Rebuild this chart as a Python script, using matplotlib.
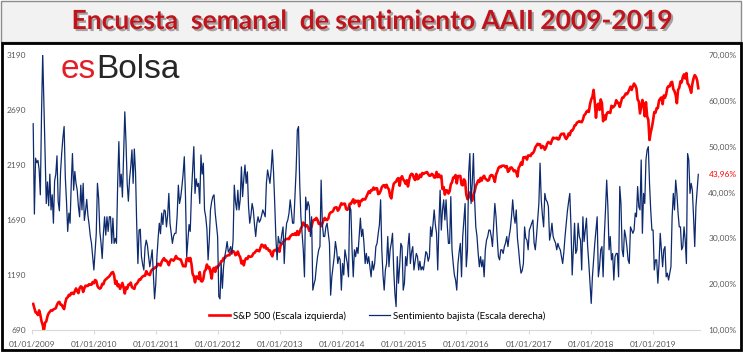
import pandas as pd
import matplotlib
matplotlib.use("Agg")
import matplotlib.pyplot as plt
import matplotlib.dates as mdates
import matplotlib.patheffects as pe
from matplotlib.patches import Rectangle
from matplotlib.transforms import blended_transform_factory

# S&P 500, cierre semanal (escala izquierda)
sp2009 = [927, 890, 850, 845, 826, 868, 827, 770, 735, 683, 757, 768, 815, 842, 856, 869, 866, 877, 883, 888,
          919, 940, 946, 921, 918, 896, 880, 940, 979, 987, 1010, 1004, 1026, 1028, 1017, 1042, 1068, 1044, 1025,
          1071, 1087, 1080, 1036, 1069, 1093, 1091, 1091, 1106, 1102, 1102, 1126, 1115]
sp2010 = [1144, 1137, 1091, 1073, 1066, 1075, 1109, 1105, 1138, 1150, 1159, 1167, 1178, 1194, 1211, 1217, 1187,
          1110, 1136, 1088, 1103, 1064, 1092, 1118, 1076, 1022, 1078, 1064, 1102, 1101, 1121, 1079, 1071, 1064,
          1104, 1110, 1125, 1148, 1146, 1165, 1176, 1183, 1183, 1225, 1199, 1199, 1189, 1224, 1240, 1243, 1257, 1258]
sp2011 = [1271, 1293, 1283, 1276, 1310, 1329, 1343, 1320, 1321, 1304, 1279, 1314, 1332, 1328, 1320, 1337, 1363,
          1340, 1338, 1333, 1331, 1300, 1270, 1271, 1268, 1339, 1344, 1316, 1345, 1292, 1199, 1178, 1123, 1177,
          1174, 1154, 1216, 1136, 1131, 1155, 1224, 1238, 1285, 1253, 1263, 1216, 1158, 1244, 1255, 1219, 1265, 1257]
sp2012 = [1278, 1289, 1315, 1316, 1345, 1342, 1361, 1366, 1370, 1370, 1404, 1397, 1408, 1398, 1370, 1378, 1403,
          1369, 1353, 1295, 1318, 1278, 1325, 1343, 1335, 1362, 1354, 1356, 1362, 1386, 1391, 1405, 1418, 1411,
          1406, 1438, 1466, 1460, 1440, 1460, 1428, 1433, 1411, 1414, 1380, 1359, 1409, 1416, 1413, 1430, 1430, 1402]
sp2013 = [1466, 1472, 1486, 1503, 1513, 1518, 1519, 1516, 1541, 1551, 1561, 1556, 1569, 1553, 1589, 1555, 1582,
          1614, 1634, 1667, 1650, 1631, 1643, 1626, 1592, 1606, 1632, 1680, 1692, 1691, 1709, 1691, 1655, 1664,
          1633, 1655, 1688, 1709, 1691, 1690, 1703, 1744, 1759, 1762, 1770, 1798, 1804, 1805, 1775, 1787, 1818, 1842]
sp2014 = [1831, 1838, 1838, 1790, 1782, 1797, 1838, 1836, 1859, 1878, 1841, 1866, 1857, 1865, 1815, 1864, 1863,
          1881, 1878, 1877, 1900, 1924, 1950, 1936, 1962, 1960, 1985, 1967, 1978, 1978, 1925, 1931, 1955, 1988,
          2003, 2007, 1985, 2010, 1982, 1967, 1906, 1886, 1964, 2018, 2031, 2039, 2063, 2071, 2002, 2070, 2088, 2058]
sp2015 = [2044, 2019, 2051, 1995, 2055, 2096, 2110, 2104, 2071, 2053, 2108, 2061, 2067, 2102, 2081, 2117, 2108,
          2116, 2122, 2126, 2107, 2092, 2094, 2110, 2101, 2077, 2076, 2127, 2079, 2104, 2078, 2092, 1971, 1989,
          1921, 1961, 1958, 1931, 1951, 2014, 2033, 2075, 2079, 2099, 2023, 2089, 2090, 2091, 2012, 2005, 2060, 2044]
sp2016 = [1922, 1880, 1907, 1940, 1880, 1865, 1918, 1948, 1999, 2022, 2050, 2036, 2073, 2048, 2081, 2092, 2065,
          2058, 2047, 2053, 2090, 2099, 2096, 2071, 2037, 2103, 2129, 2162, 2175, 2170, 2183, 2184, 2183, 2169,
          2180, 2128, 2139, 2165, 2168, 2153, 2133, 2141, 2126, 2085, 2164, 2182, 2213, 2192, 2260, 2259, 2264, 2239]
sp2017 = [2277, 2275, 2271, 2295, 2297, 2316, 2351, 2367, 2383, 2373, 2378, 2344, 2363, 2355, 2329, 2349, 2384,
          2399, 2390, 2382, 2415, 2439, 2433, 2433, 2438, 2423, 2425, 2459, 2473, 2472, 2476, 2441, 2426, 2443,
          2476, 2461, 2500, 2502, 2519, 2549, 2553, 2575, 2581, 2588, 2582, 2579, 2602, 2642, 2651, 2675, 2684, 2673]
sp2018 = [2743, 2786, 2810, 2873, 2762, 2620, 2732, 2747, 2691, 2786, 2752, 2588, 2640, 2604, 2656, 2670, 2670,
          2663, 2728, 2713, 2721, 2735, 2779, 2754, 2755, 2718, 2760, 2801, 2802, 2819, 2840, 2833, 2850, 2875,
          2902, 2872, 2905, 2930, 2914, 2886, 2785, 2768, 2659, 2723, 2781, 2736, 2633, 2760, 2633, 2600, 2417, 2486]
sp2019 = [2532, 2596, 2671, 2665, 2707, 2708, 2776, 2793, 2804, 2743, 2822, 2801, 2834, 2893, 2907, 2905, 2940,
          2946, 2881, 2860, 2826, 2752, 2873, 2892, 2950, 2941, 2990, 3014, 2977, 3026, 2932, 2918, 2889, 2847,
          2926, 2978, 3007, 2992, 2962, 2888]

# Sentimiento bajista AAII, % semanal (escala derecha)
b2009 = [55, 35.3, 47.5, 46.5, 47, 45, 39.5, 57, 70.3, 59.5, 49.3, 37.6, 42.3, 37.1, 44, 36.2, 39.5, 33.3, 42.5, 44,
         48, 38, 36, 44.5, 48.7, 52, 54.4, 43.3, 38, 31.5, 35.5, 33.3, 42, 48.5, 40.5, 44.6, 42, 40.5, 37, 34.7,
         41.6, 36.2, 42, 33.9, 36, 38.5, 35, 33, 30.5, 28.9, 26, 23.1]
b2010 = [27, 31, 42, 38.8, 31.5, 29, 25.6, 31, 34.7, 30.7, 34.7, 31.5, 34.7, 34.7, 28.9, 34.4, 28.9, 30, 28.9, 42,
         51.1, 41.2, 44, 39, 48, 57.6, 51, 42, 38.1, 43, 45.6, 49.3, 42, 49.5, 44.5, 33, 24.5, 31.8, 32, 26,
         24.3, 23.1, 28, 29.6, 28.5, 26, 23.8, 25.5, 27.5, 22, 16.8, 20]
b2011 = [26, 30, 33.3, 31, 35.5, 33, 36.2, 36, 32.5, 35, 39.8, 33.3, 31, 28.9, 30.5, 31.1, 31.1, 35, 41.6, 37.6,
         39, 41.3, 44, 47.8, 39.1, 26, 29.6, 33, 31.5, 39.8, 45, 50, 39.8, 43, 41.3, 42, 37.6, 48.2, 44, 46.4,
         36.2, 34.7, 32, 25.3, 29.6, 36.2, 38, 39.1, 39.5, 35.5, 33, 30.4]
b2012 = [17.3, 16.8, 24.5, 19.1, 23.8, 26, 27.5, 29.3, 27, 27.5, 28.2, 26.5, 29.6, 41.6, 38, 36.2, 40.5, 36.2, 38.5,
         45.6, 39.1, 43, 46, 42, 44.5, 36.9, 33.3, 35, 37.6, 36.2, 33, 30.4, 33.3, 34.7, 33.5, 34, 35, 36.2, 35.5,
         34.7, 42, 44.9, 43.5, 42, 45, 49.3, 44.5, 37.6, 30, 25.3, 30.4, 29]
b2013 = [28.9, 31, 32.5, 24.5, 30.4, 33.3, 34, 35.5, 38.4, 36, 33.3, 33.3, 39.1, 45, 53.6, 54.4, 42, 34.7, 31, 27.5,
         21.6, 39, 36.2, 38, 37, 30.4, 34.7, 18.7, 20, 21, 23.8, 26, 27.5, 28.2, 42.7, 33.3, 30.4, 30.4, 32.5, 33.3,
         31, 28.9, 17.6, 21.6, 23.8, 26, 29.3, 27.5, 24.5, 26, 25.3, 18.7]
b2014 = [24.5, 22, 27.5, 26, 24.5, 21.6, 37, 36.2, 27.5, 21.6, 27.5, 26, 28, 26.7, 30.4, 34.4, 30.4, 32, 28.9, 24.5,
         26.7, 24.5, 26, 23.8, 21.6, 25, 23.1, 24.5, 28.2, 28.9, 31.1, 33, 38.4, 27.5, 22, 18.7, 23.1, 24.5, 30.4,
         23.8, 27.5, 29, 31.1, 23.1, 18, 15.1, 26, 20.2, 24, 28.9, 28.2, 18.7]
b2015 = [20.2, 26, 24, 28.2, 31.1, 24.5, 27, 28.2, 23.1, 25, 26.7, 26, 23.1, 25, 23.1, 23.8, 23.1, 25, 27.1, 26.7,
         25, 26, 32.5, 30.4, 33, 36.2, 33, 31.1, 23.1, 33, 40.5, 31.8, 36.2, 38.4, 34, 38.4, 33, 28.9, 28.9, 39.1,
         27.5, 24.5, 22, 20.9, 18.7, 24.5, 27, 28.9, 21.6, 30.4, 34, 37.6]
b2016 = [23.8, 27.5, 44.2, 48.5, 37.6, 42, 48.5, 38.4, 32.5, 30.4, 26.7, 23.8, 26, 23.8, 25.3, 21.6, 27.5, 29.6,
         30.4, 31.8, 31.8, 30.4, 28.2, 33, 37.6, 34.7, 30, 26, 25.3, 27.5, 27.5, 26.7, 28.2, 29, 30.4, 28.2, 30.4,
         32, 34.7, 38.4, 35, 33.3, 36.2, 30, 27.5, 24.5, 22.4, 23, 24.5, 32.5, 30, 29.6]
b2017 = [27.5, 31.8, 32.5, 33.3, 34, 29, 27.5, 30.4, 34, 37.6, 46.4, 38.4, 35, 32.5, 39.8, 38.4, 38, 36.9, 29.6, 31,
         33.3, 30.4, 29.6, 29, 27.5, 28.9, 28, 27.5, 26, 24.5, 27, 30.4, 33.3, 36, 38, 39.8, 32.5, 22, 27.5, 33.3,
         26.7, 27.5, 33.3, 30.4, 29.6, 23.1, 34.7, 29.3, 31.8, 34.4, 28.2, 24.5]
b2018 = [20.2, 15.8, 21.6, 25.3, 28.9, 31.8, 34.7, 21.6, 23.8, 27.5, 28.2, 21.6, 30.4, 36.2, 42.7, 36.9, 27.5, 30.4,
         25.3, 26.7, 20.9, 26, 26.7, 26.7, 21.6, 41.3, 37.6, 27.5, 26, 31.8, 30.4, 28.2, 25.3, 24.5, 32.5, 31.8,
         31.1, 31.8, 35.5, 34.7, 41.3, 36.9, 36.2, 47.1, 31.1, 39.8, 37.6, 47.1, 49.3, 50, 42, 36.2]
b2019 = [31.8, 31.8, 23.1, 25.3, 25.3, 20.2, 24.5, 31.1, 27.5, 23.8, 27.5, 28.2, 21.6, 22.4, 20.9, 22.4, 23.8, 34.7,
         39.8, 36.2, 42.7, 39.8, 35.5, 32.5, 32.5, 27.5, 28.2, 32.5, 29.6, 24.5, 48.5, 47.1, 39.8, 42, 40.5, 34.7,
         28.2, 36.9, 40.5, 43.96]

ultimo_bajista = 43.96

sp500 = sp2009 + sp2010 + sp2011 + sp2012 + sp2013 + sp2014 + sp2015 + sp2016 + sp2017 + sp2018 + sp2019
bajista = b2009 + b2010 + b2011 + b2012 + b2013 + b2014 + b2015 + b2016 + b2017 + b2018 + b2019

fechas_sp = pd.date_range("2009-01-08", periods=len(sp500), freq="7D")
fechas_baj = pd.date_range("2009-01-08", periods=len(bajista), freq="7D")

W, H = 743, 352
fig = plt.figure(figsize=(W / 100, H / 100), dpi=100)
fig.patch.set_facecolor("white")

# banda del titulo y marco del grafico (detras de los ejes)
fig.add_artist(Rectangle((1 / W, 1 - 42 / H), 740 / W, 41 / H, transform=fig.transFigure,
                         facecolor="#f2f2f2", edgecolor="#8c8c8c", lw=1, zorder=-5))
fig.add_artist(Rectangle((1.5 / W, 2 / H), 739 / W, (H - 45) / H, transform=fig.transFigure,
                         facecolor="none", edgecolor="black", lw=2, zorder=-5))

fig.text(0.5, 1 - 21 / H, "Encuesta  semanal  de sentimiento AAII 2009-2019",
         ha="center", va="center", fontsize=19, fontweight="bold", family="Lato", color="#c0141c",
         path_effects=[pe.SimplePatchShadow(offset=(1.5, -1.5), shadow_rgbFace="#606060", alpha=0.55),
                       pe.Normal()])

gris = "#595959"
ax = fig.add_axes([32 / W, 22 / H, 668 / W, 275 / H])
ax.patch.set_alpha(0)
linea_sp, = ax.plot(fechas_sp, sp500, color="#ff0000", lw=1.9, solid_joinstyle="round")
ax.set_ylim(690, 3190)
ax.set_yticks(range(690, 3191, 500))
ax.set_xlim(pd.Timestamp("2009-01-01"), pd.Timestamp("2019-10-06"))
ax.xaxis.set_major_locator(mdates.YearLocator(1, month=1, day=1))
ax.xaxis.set_major_formatter(mdates.DateFormatter("%d/%m/%Y"))

ax2 = ax.twinx()
linea_baj, = ax2.plot(fechas_baj, bajista, color="#0d2a6e", lw=0.9)
ax2.set_ylim(10, 70)
ax2.set_yticks(range(10, 71, 10))
ax2.set_yticklabels([f"{v:.2f}%".replace(".", ",") for v in range(10, 71, 10)])

for a in (ax, ax2):
    for s in ("top", "left", "right"):
        a.spines[s].set_visible(False)
    a.spines["bottom"].set_color("#d9d9d9")
    a.spines["bottom"].set_linewidth(0.8)
ax2.spines["bottom"].set_visible(False)

ax.tick_params(axis="y", length=0, pad=4.5, labelsize=6, labelcolor=gris)
ax.tick_params(axis="x", length=3, color="#d9d9d9", pad=5, labelsize=6, labelcolor=gris)
ax2.tick_params(axis="y", length=0, pad=6, labelsize=6, labelcolor=gris)
for lab in ax.get_xticklabels() + ax.get_yticklabels() + ax2.get_yticklabels():
    lab.set_family("Lato")

trans = blended_transform_factory(ax2.transAxes, ax2.transData)
ax2.text(1 + 8.5 / 668, ultimo_bajista, f"{ultimo_bajista:.2f}%".replace(".", ","), transform=trans,
         ha="left", va="center", fontsize=6, color="#ff0000", family="Lato")

fig.legend([linea_sp, linea_baj], ["S&P 500 (Escala izquierda)", "Sentimiento bajista (Escala derecha)"],
           loc="center", bbox_to_anchor=(377 / W, 1 - 316 / H), ncol=2, frameon=False,
           prop={"family": "Lato", "size": 7}, handlelength=2.2, handletextpad=0.25, columnspacing=2.4)

# logo
t1 = fig.text(61 / W, 1 - 78 / H, "es", fontsize=24, family="Liberation Sans", color="#e31e24",
              va="baseline", zorder=10)
fig.canvas.draw()
bb = t1.get_window_extent()
fig.text(bb.x1 / fig.bbox.width, 1 - 78 / H, "Bolsa", fontsize=24, family="Liberation Sans",
         color="#262626", va="baseline", zorder=10)

fig.savefig("out.png", dpi=100)
